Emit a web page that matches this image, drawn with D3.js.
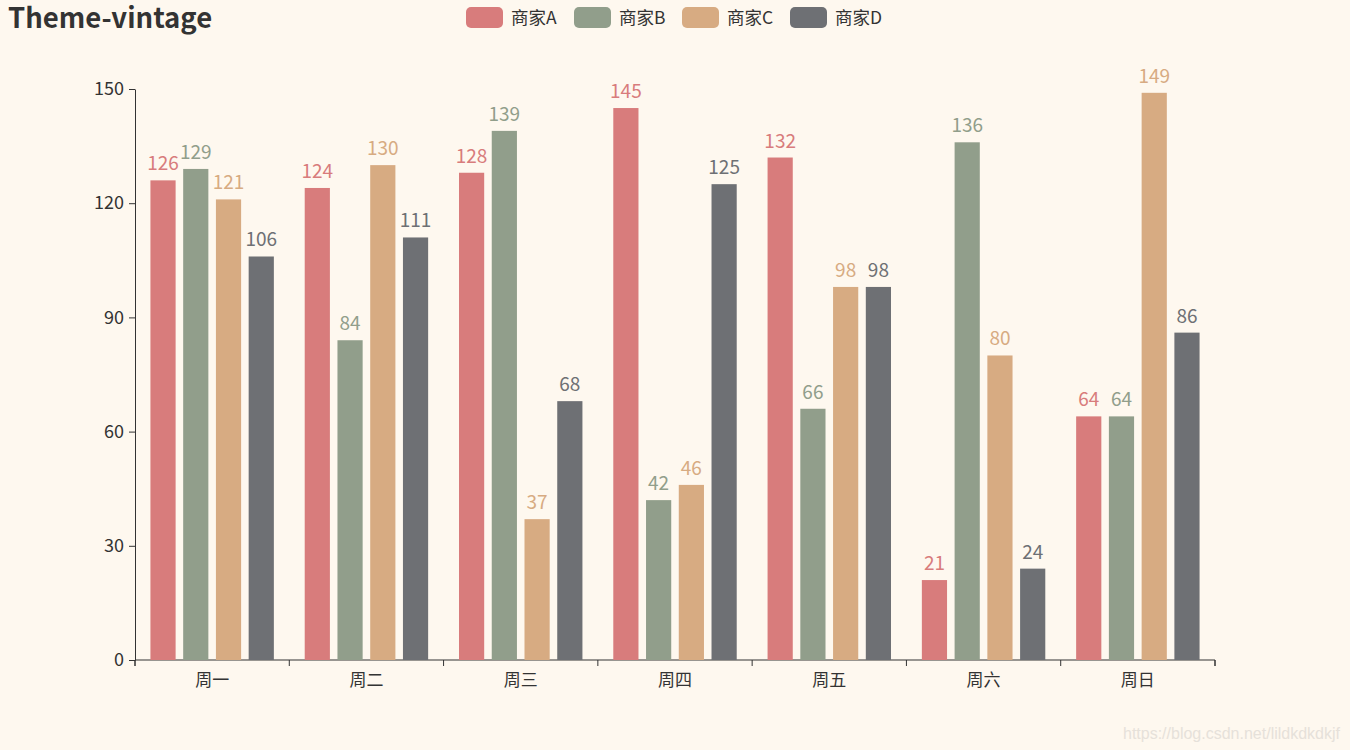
<!DOCTYPE html>
<meta charset="utf-8">
<style>
  body {
      margin: 0;
      padding: 0;
      background: #fef8ef;
  }
  svg text {
      font-family: "Noto Sans CJK SC", "Noto Sans", sans-serif;
  }
  .axis path, .axis line {
      stroke: #333;
  }
  .axis text {
      fill: #333;
      font-size: 17px;
  }
</style>
<body>
<script src="https://d3js.org/d3.v7.min.js"></script>
<script>
var days = ["周一", "周二", "周三", "周四", "周五", "周六", "周日"];
var seriesNames = ["商家A", "商家B", "商家C", "商家D"];
var shopA = [126, 124, 128, 145, 132, 21, 64];
var shopB = [129, 84, 139, 42, 66, 136, 64];
var shopC = [121, 130, 37, 46, 98, 80, 149];
var shopD = [106, 111, 68, 125, 98, 24, 86];
var yTicks = [0, 30, 60, 90, 120, 150];
var colors = ["#d87c7c", "#919e8b", "#d7ab82", "#6e7074"];

var series = [shopA, shopB, shopC, shopD];

var width = 1350,
    height = 750,
    margin = {top: 89, right: 135, bottom: 90, left: 135};

var svg = d3.select("body").append("svg")
    .attr("width", width)
    .attr("height", height);

var x = d3.scaleBand()
    .domain(days)
    .range([margin.left, width - margin.right])
    .paddingInner(0)
    .paddingOuter(0);

// echarts style: 20% category gap, 30% bar gap
var catGap = x.bandwidth() * 0.2;
var barW = (x.bandwidth() - catGap) / (4 + 3 * 0.3);
var barGap = barW * 0.3;

var y = d3.scaleLinear()
    .domain([0, 150])
    .range([660, 89]);

// axes
svg.append("g")
    .attr("class", "axis")
    .attr("transform", "translate(0,660)")
    .call(d3.axisBottom(x).tickSizeOuter(6).tickSizeInner(0).tickPadding(14))
    .call(function(g) {
        g.selectAll(".tick line").remove();
        g.select(".domain").attr("d", "M" + margin.left + ",6V0H" + (width - margin.right) + "V6");
    });

svg.append("g")
    .selectAll("line")
    .data(d3.range(days.length + 1))
    .enter().append("line")
    .attr("x1", function(i) { return margin.left + i * x.bandwidth(); })
    .attr("x2", function(i) { return margin.left + i * x.bandwidth(); })
    .attr("y1", 660)
    .attr("y2", 666)
    .attr("stroke", "#333");

svg.append("g")
    .attr("class", "axis")
    .attr("transform", "translate(" + margin.left + ",0)")
    .call(d3.axisLeft(y).tickValues(yTicks).tickSize(6).tickSizeOuter(0).tickPadding(5))
    .call(function(g) { g.selectAll("text").style("font-size", "18px"); });

// bars
series.forEach(function(vals, si) {
    var g = svg.append("g");
    var bx = function(d, i) {
        return x(days[i]) + catGap / 2 + si * (barW + barGap);
    };
    g.selectAll("rect")
        .data(vals)
        .enter().append("rect")
        .attr("x", bx)
        .attr("y", function(d) { return y(d); })
        .attr("width", barW)
        .attr("height", function(d) { return y(0) - y(d); })
        .attr("fill", colors[si]);
    g.selectAll("text")
        .data(vals)
        .enter().append("text")
        .attr("x", function(d, i) { return bx(d, i) + barW / 2; })
        .attr("y", function(d) { return y(d) - 10; })
        .attr("text-anchor", "middle")
        .attr("font-size", 19)
        .attr("fill", colors[si])
        .text(function(d) { return d; });
});

// title
svg.append("text")
    .attr("x", 8)
    .attr("y", 28)
    .attr("font-size", 27.5)
    .attr("font-weight", "bold")
    .attr("fill", "#333")
    .text("Theme-vintage");

// legend
var legendX = [466, 574, 682, 790];
var legend = svg.append("g");
seriesNames.forEach(function(name, i) {
    legend.append("rect")
        .attr("x", legendX[i])
        .attr("y", 7)
        .attr("width", 37)
        .attr("height", 21)
        .attr("rx", 5)
        .attr("fill", colors[i]);
    legend.append("text")
        .attr("x", legendX[i] + 45)
        .attr("y", 24)
        .attr("font-size", 17.5)
        .attr("fill", "#333")
        .text(name);
});

// watermark
svg.append("text")
    .attr("x", 1340)
    .attr("y", 739)
    .attr("text-anchor", "end")
    .attr("font-size", 16)
    .attr("fill", "#e6e1da")
    .style("font-family", "Arial, 'Liberation Sans', sans-serif")
    .text("https://blog.csdn.net/lildkdkdkjf");
</script>
</body>
